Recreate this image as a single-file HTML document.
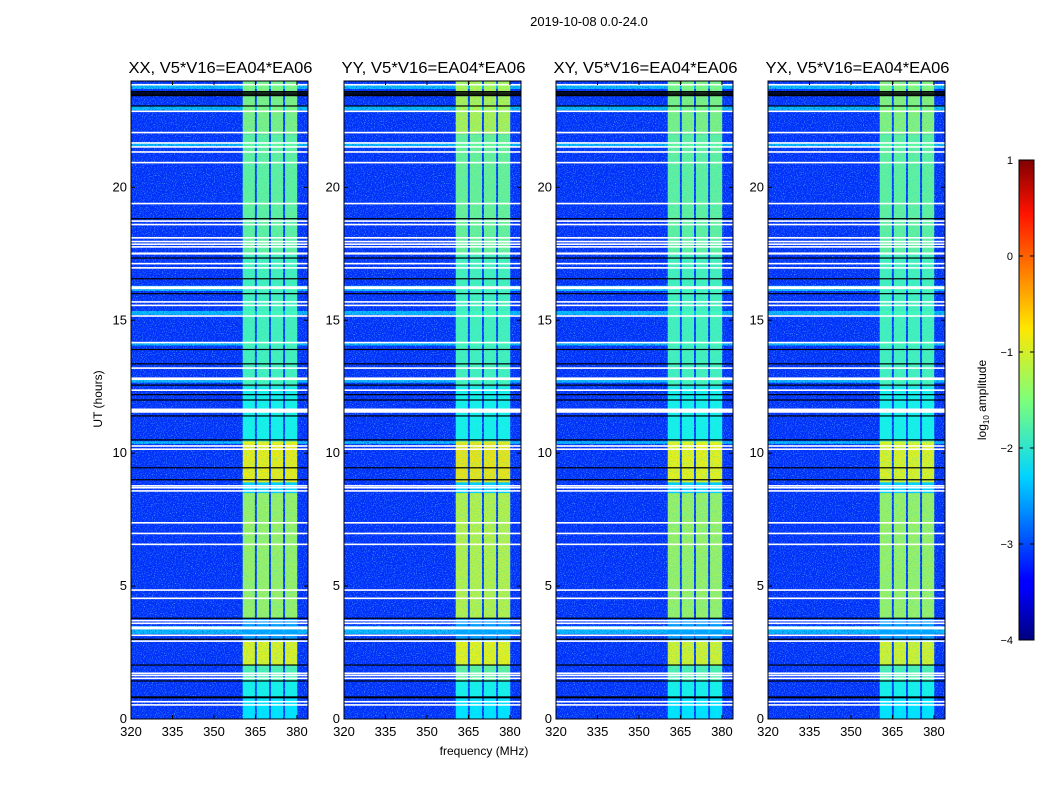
<!DOCTYPE html>
<html><head><meta charset="utf-8">
<style>
html,body{margin:0;padding:0;background:#fff;}
svg text{font-family:"Liberation Sans",sans-serif;fill:#000;}
</style></head>
<body>
<svg id="fig" width="1050" height="800" viewBox="0 0 1050 800" xmlns="http://www.w3.org/2000/svg">
<defs>
<filter id="nzLight" x="0" y="0" width="100%" height="100%">
  <feTurbulence type="fractalNoise" baseFrequency="0.9" numOctaves="1" seed="3" result="t"/>
  <feColorMatrix in="t" type="matrix" values="0 0 0 0 0.1  0 0 0 0 0.5  0 0 0 0 1  3.0 0 0 0 -1.55"/>
</filter>
<filter id="nzDark" x="0" y="0" width="100%" height="100%">
  <feTurbulence type="fractalNoise" baseFrequency="0.85" numOctaves="1" seed="11" result="t"/>
  <feColorMatrix in="t" type="matrix" values="0 0 0 0 0  0 0 0 0 0.05  0 0 0 0 0.6  3.0 0 0 0 -1.55"/>
</filter>
<filter id="nzBand" x="0" y="0" width="100%" height="100%">
  <feTurbulence type="fractalNoise" baseFrequency="0.8" numOctaves="1" seed="7" result="t"/>
  <feColorMatrix in="t" type="matrix" values="0 0 0 0 0  0 0 0 0 0.75  0 0 0 0 1  2.6 0 0 0 -1.25"/>
</filter>
<linearGradient id="jet" x1="0" y1="1" x2="0" y2="0">
  <stop offset="0" stop-color="#00007f"/>
  <stop offset="0.11" stop-color="#0000ff"/>
  <stop offset="0.125" stop-color="#0000ff"/>
  <stop offset="0.34" stop-color="#00d4ff"/>
  <stop offset="0.5" stop-color="#7dff7a"/>
  <stop offset="0.65" stop-color="#ffe600"/>
  <stop offset="0.89" stop-color="#ff1200"/>
  <stop offset="1" stop-color="#7f0000"/>
</linearGradient>
</defs>
<text x="589" y="26" font-size="13" text-anchor="middle">2019-10-08 0.0-24.0</text>
<text x="484" y="755" font-size="12" text-anchor="middle">frequency (MHz)</text>
<text x="0" y="0" font-size="12" text-anchor="middle" transform="translate(102,399) rotate(-90)">UT (hours)</text>
<g id="panels"></g>
<g id="cbar">
  <rect x="1019" y="160" width="15" height="480" fill="url(#jet)" stroke="#000" stroke-width="1"/>
  <text x="0" y="0" font-size="12" text-anchor="middle" transform="translate(986,400) rotate(-90)">log<tspan font-size="8" dy="3">10</tspan><tspan dy="-3"> amplitude</tspan></text>
</g>
</svg>
<script>
// ---- data ----
const panelTitles = ["XX, V5*V16=EA04*EA06","YY, V5*V16=EA04*EA06","XY, V5*V16=EA04*EA06","YX, V5*V16=EA04*EA06"];
const panelLefts = [131, 344, 556, 768];
const xTicks = [320, 335, 350, 365, 380];
const yTicks = [0, 5, 10, 15, 20];
const cbarTicks = [1, 0, -1, -2, -3, -4];
const bandStarts = [360.4, 365.5, 370.6, 375.7];
const bandWidth = 4.4;
const bgLevel = -3.15;
// time segments for band brightness: start, end, log10 amplitude (per panel)
const segStart = [0, 0.8, 1.45, 2.05, 2.95, 3.8, 8.5, 8.9, 10.45, 12.5, 17.5, 22.0];
const segEnd   = [0.8, 1.45, 2.05, 2.95, 3.8, 8.5, 8.9, 10.45, 12.5, 17.5, 22.0, 24.0];
const segLevel = [
  [-2.2, -2.0, -1.7, -0.95, -2.6, -1.3, -2.3, -0.85, -2.0, -1.75, -1.6, -1.45],
  [-2.2, -2.0, -1.6, -0.9, -2.6, -1.15, -2.3, -0.8, -2.0, -1.75, -1.55, -1.2],
  [-2.2, -2.0, -1.7, -1.0, -2.6, -1.3, -2.3, -0.9, -2.0, -1.75, -1.6, -1.45],
  [-2.2, -2.0, -1.7, -1.0, -2.6, -1.3, -2.3, -0.95, -2.0, -1.75, -1.6, -1.4]
];
// brighter background rows
const cyanStart = [3.2, 10.35, 12.65, 14.05, 15.2, 16.1, 21.55, 22.9, 23.7];
const cyanEnd   = [3.5, 10.45, 12.75, 14.15, 15.35, 16.3, 21.65, 23.05, 23.85];
const whiteRows = [0.53,0.65,1.53,1.64,1.72,2.93,3.15,3.4,3.45,3.6,3.7,4.54,4.85,6.57,6.98,7.38,8.58,8.7,8.77,10.15,10.27,11.55,11.6,11.65,12.37,12.78,12.82,13.2,14.16,15.16,15.56,15.69,16.2,16.25,16.97,17.13,17.5,17.52,17.76,17.86,17.96,18.1,18.6,18.73,19.39,20.93,21.33,21.52,21.67,22.06,22.86,23.86];
const blackRows = [0.8,0.83,1.43,2.03,3.0,3.79,9.0,9.45,10.5,11.4,12.0,12.2,12.56,13.36,13.9,16.0,16.56,17.34,18.82,23.06,23.45,23.5,23.55,23.6];

// ---- helpers ----
const NS = "http://www.w3.org/2000/svg";
const PW = 177, PT = 81, PB = 719;
function xScale(left, f){ return left + (f - 320) / (384 - 320) * PW; }
function yScale(t){ return PB - t / 24 * (PB - PT); }
function clamp(v){ return Math.max(0, Math.min(1, v)); }
function jet(lv){
  const v = (lv + 4) / 5;
  const r = clamp(1.5 - Math.abs(4*v - 3)), g = clamp(1.5 - Math.abs(4*v - 2)), b = clamp(1.5 - Math.abs(4*v - 1));
  return `rgb(${Math.round(r*255)},${Math.round(g*255)},${Math.round(b*255)})`;
}
function mk(tag, attrs, parent){
  const e = document.createElementNS(NS, tag);
  for (const k in attrs) e.setAttribute(k, attrs[k]);
  parent.appendChild(e);
  return e;
}
const root = document.getElementById("panels");
panelLefts.forEach((L, p) => {
  const g = mk("g", {}, root);
  
  
  const bg = mk("rect", {x:L, y:PT, width:PW, height:PB-PT, fill:jet(bgLevel)}, g);
  
  
  cyanStart.forEach((s, i) => {
    const r = mk("rect", {x:L, y:yScale(cyanEnd[i]), width:PW, height:yScale(s)-yScale(cyanEnd[i]), fill:jet(-2.45)}, g);
    
    
  });
  const n1 = mk("rect", {x:L, y:PT, width:PW, height:PB-PT, fill:"#fff", filter:"url(#nzLight)"}, g);
  
  
  const n2 = mk("rect", {x:L, y:PT, width:PW, height:PB-PT, fill:"#fff", filter:"url(#nzDark)"}, g);
  
  
  segStart.forEach((s, i) => {
    bandStarts.forEach((b) => {
      const x0 = xScale(L, b), x1 = xScale(L, b + bandWidth);
      const r = mk("rect", {x:x0, y:yScale(segEnd[i]), width:x1-x0, height:yScale(s)-yScale(segEnd[i]), fill:jet(segLevel[p][i]), opacity:0.92}, g);
      
      
    });
  });
  const bx0 = xScale(L, bandStarts[0]), bx1 = xScale(L, bandStarts[bandStarts.length-1] + bandWidth);
  const n3 = mk("rect", {x:bx0, y:PT, width:bx1-bx0, height:PB-PT, fill:"#fff", filter:"url(#nzBand)", opacity:0.55}, g);
  
  
  whiteRows.forEach((t) => {
    const r = mk("rect", {x:L, y:yScale(t)-0.8, width:PW, height:1.6, fill:"#fff"}, g);
    
    
  });
  blackRows.forEach((t) => {
    const r = mk("rect", {x:L, y:yScale(t)-0.6, width:PW, height:1.2, fill:"#000"}, g);
    
    
  });
  const fr = mk("rect", {x:L, y:PT, width:PW, height:PB-PT, fill:"none", stroke:"#000", "stroke-width":1}, g);
  
  
  const tt = mk("text", {x:L+PW/2+1, y:73, "font-size":16, "text-anchor":"middle", textLength:184, lengthAdjust:"spacingAndGlyphs"}, g);
  tt.textContent = panelTitles[p];
  
  
  xTicks.forEach((v) => {
    const x = xScale(L, v);
    mk("line", {x1:x, x2:x, y1:PB, y2:PB-4, stroke:"#000"}, g);
    mk("line", {x1:x, x2:x, y1:PT, y2:PT+4, stroke:"#000"}, g);
    const lb = mk("text", {x:x, y:PB+17, "font-size":13, "text-anchor":"middle"}, g);
    lb.textContent = v;
    
    
  });
  yTicks.forEach((v) => {
    const y = yScale(v);
    mk("line", {x1:L, x2:L+4, y1:y, y2:y, stroke:"#000"}, g);
    mk("line", {x1:L+PW, x2:L+PW-4, y1:y, y2:y, stroke:"#000"}, g);
    const lb = mk("text", {x:L-4, y:y+4, "font-size":13, "text-anchor":"end"}, g);
    lb.textContent = v;
    
    
  });
});
const cb = document.getElementById("cbar");
cbarTicks.forEach((v) => {
  const y = 640 - (v + 4) / 5 * 480;
  mk("line", {x1:1019, x2:1023, y1:y, y2:y, stroke:"#000"}, cb);
  mk("line", {x1:1034, x2:1030, y1:y, y2:y, stroke:"#000"}, cb);
  const lb = mk("text", {x:1013, y:y+4, "font-size":11, "text-anchor":"end"}, cb);
  lb.textContent = v < 0 ? "\u2212" + Math.abs(v) : String(v);
  
  
});
</script>
</body></html>
